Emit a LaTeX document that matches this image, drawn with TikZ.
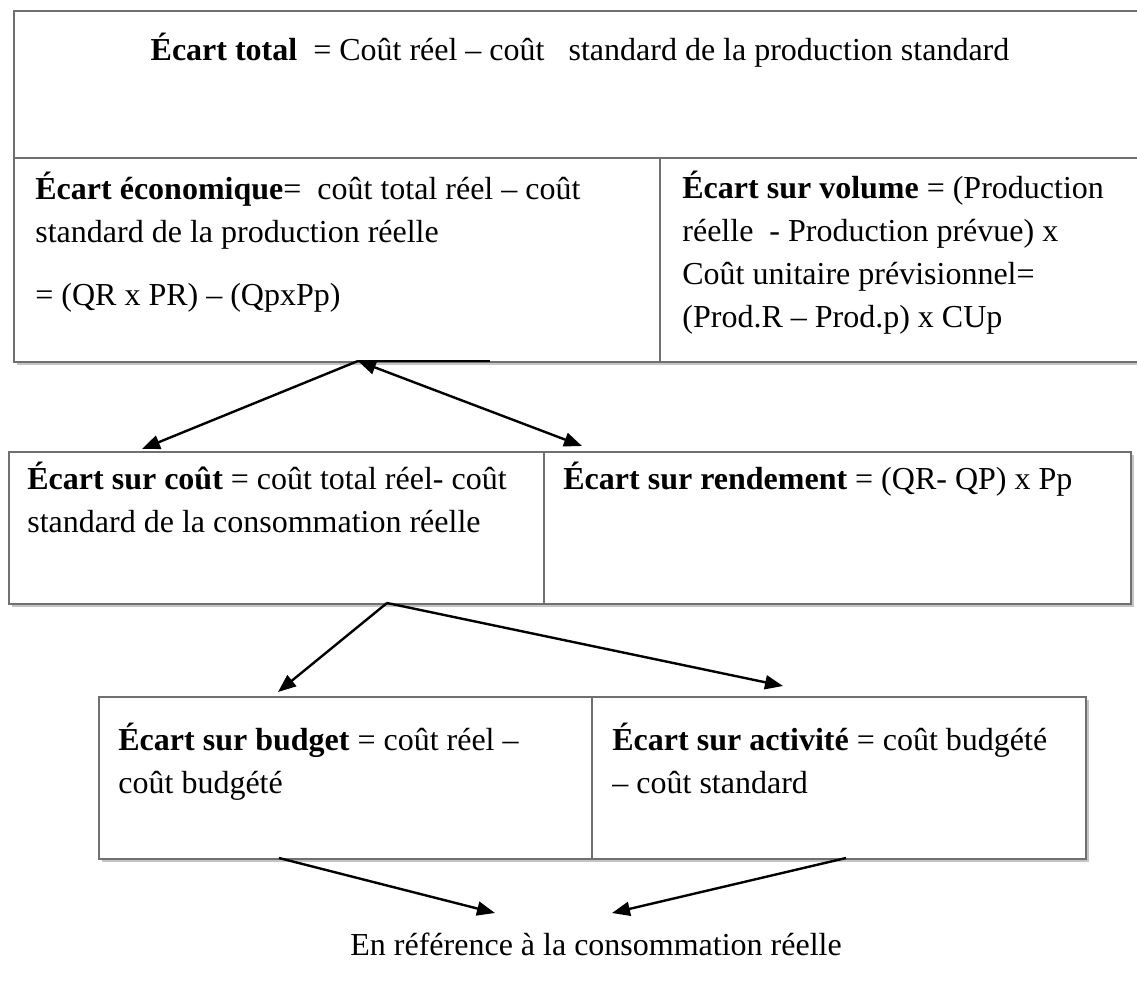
\documentclass[tikz,border=0pt]{standalone}
\usepackage{fontspec}
\setmainfont{Liberation Serif}
\usetikzlibrary{arrows.meta}
\definecolor{framegray}{HTML}{707070}
\definecolor{shadegray}{HTML}{C4C4C4}
\begin{document}
\begin{tikzpicture}[x=0.5pt,y=-0.5pt,
  cell/.style={draw=framegray, line width=1pt, fill=white, inner sep=0pt, anchor=north west},
  shade/.style={fill=shadegray, draw=none},
  txt/.style={inner sep=0pt, anchor=base west, font=\fontsize{16}{21.5}\selectfont},
  tip/.tip={Triangle[length=9pt,width=7pt]},
  link/.style={line width=1.2pt, -tip},
  linkboth/.style={line width=1.2pt, tip-tip},
]
\useasboundingbox (0,0) rectangle (1137,986);
\clip (0,0) rectangle (1137,986);

% first block: title and its two halves
\fill[shade] (17,14) rectangle (1150,365);
\node[cell, minimum width=566pt, minimum height=73.5pt] (title) at (13,10) {};
\node[cell, minimum width=323pt, minimum height=102pt] (eco) at (13,157) {};
\node[cell, minimum width=243pt, minimum height=102pt] (vol) at (659,157) {};

% second block
\fill[shade] (12,455) rectangle (1134,607);
\node[cell, minimum width=267.5pt, minimum height=76pt] (cout) at (8,451) {};
\node[cell, minimum width=293.5pt, minimum height=76pt] (rend) at (543,451) {};

% third block
\fill[shade] (102,700) rectangle (1089,862);
\node[cell, minimum width=246.5pt, minimum height=81pt] (budget) at (98,696) {};
\node[cell, minimum width=247pt, minimum height=81pt] (activ) at (591,696) {};

% texts
\node[txt, anchor=base] (ttitle) at (580,60)
  {\textbf{Écart total}\ \ = Coût réel – coût\ \ \ standard de la production standard};
\node[txt] (teco) at (35,199) {\parbox[t]{320pt}{\textbf{Écart économique}= \ coût total réel – coût\\
  standard de la production réelle\\[10pt]
  = (QR x PR) – (QpxPp)}};
\node[txt] (tvol) at (682,198) {\parbox[t]{230pt}{\textbf{Écart sur volume} = (Production\\
  réelle\ \ - Production prévue) x\\
  Coût unitaire prévisionnel=\\
  (Prod.R – Prod.p) x CUp}};
\node[txt] (tcout) at (27,489) {\parbox[t]{260pt}{\textbf{Écart sur coût} = coût total réel- coût\\
  standard de la consommation réelle}};
\node[txt] (trend) at (563,489) {\textbf{Écart sur rendement} = (QR- QP) x Pp};
\node[txt] (tbudget) at (118,750) {\parbox[t]{240pt}{\textbf{Écart sur budget} = coût réel –\\
  coût budgété}};
\node[txt] (tactiv) at (612,750) {\parbox[t]{240pt}{\textbf{Écart sur activité} = coût budgété\\
  – coût standard}};
\node[txt] (ref) at (350,955) {En référence à la consommation réelle};

% connector ends
\coordinate (p1) at (358,361);
\coordinate (p1e) at (490,361);
\coordinate (q1) at (142,449);
\coordinate (q2) at (582,446);
\coordinate (p2) at (387,603);
\coordinate (q3) at (278,692);
\coordinate (q4) at (783,686);
\coordinate (p3) at (279,858);
\coordinate (q5) at (495,913);
\coordinate (p4) at (846,858);
\coordinate (q6) at (612,913);

% connectors
\draw[line width=1.2pt] (p1) -- (p1e);
\draw[link] (p1) -- (q1);
\draw[linkboth] (p1) -- (q2);
\draw[link] (p2) -- (q3);
\draw[link] (p2) -- (q4);
\draw[link] (p3) -- (q5);
\draw[link] (p4) -- (q6);
\end{tikzpicture}
\end{document}
